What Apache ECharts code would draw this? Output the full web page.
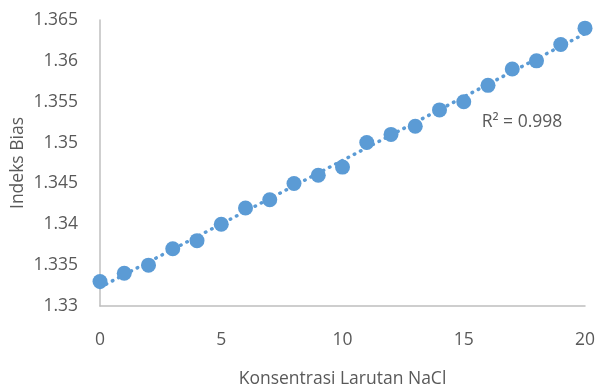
<!DOCTYPE html>
<html>
<head>
<meta charset="utf-8">
<script src="https://cdn.jsdelivr.net/npm/echarts@6/dist/echarts.min.js"></script>
<style>
  html, body { margin: 0; padding: 0; background: #fff; }
  #chart { width: 602px; height: 387px; }
</style>
</head>
<body>
<div id="chart"></div>
<script>
// NaCl concentration vs. refractive index
const konsentrasi = [0, 1, 2, 3, 4, 5, 6, 7, 8, 9, 10, 11, 12, 13, 14, 15, 16, 17, 18, 19, 20];
const indeksBias = [1.333, 1.334, 1.335, 1.337, 1.338, 1.340, 1.342, 1.343, 1.345, 1.346, 1.347,
                    1.350, 1.351, 1.352, 1.354, 1.355, 1.357, 1.359, 1.360, 1.362, 1.364];
const xTicks = [0, 5, 10, 15, 20];
const yTicks = [1.33, 1.335, 1.34, 1.345, 1.35, 1.355, 1.36, 1.365];
const r2Text = 'R² = 0.998';

// least-squares linear trendline through the measurements
const n = konsentrasi.length;
const mx = konsentrasi.reduce((a, b) => a + b, 0) / n;
const my = indeksBias.reduce((a, b) => a + b, 0) / n;
let sxy = 0, sxx = 0;
for (let i = 0; i < n; i++) {
  sxy += (konsentrasi[i] - mx) * (indeksBias[i] - my);
  sxx += (konsentrasi[i] - mx) ** 2;
}
const slope = sxy / sxx;
const intercept = my - slope * mx;
const xFirst = konsentrasi[0], xLast = konsentrasi[n - 1];
const trend = [[xFirst, intercept + slope * xFirst], [xLast, intercept + slope * xLast]];

const textColor = '#595959';
const fontFamily = '"Open Sans", "Liberation Sans", sans-serif';
const fontSize = 17.5;
const blue = '#5b9bd5';

const chart = echarts.init(document.getElementById('chart'), null, { renderer: 'canvas' });
chart.setOption({
  animation: false,
  backgroundColor: '#ffffff',
  grid: { left: 100, right: 17, top: 20, bottom: 81, containLabel: false, outerBoundsMode: 'none' },
  xAxis: {
    type: 'value',
    min: xTicks[0], max: xTicks[xTicks.length - 1], interval: xTicks[1] - xTicks[0],
    name: 'Konsentrasi Larutan NaCl',
    nameLocation: 'middle', nameGap: 64, nameMoveOverlap: false,
    nameTextStyle: { color: textColor, fontSize, fontFamily },
    axisLine: { show: true, lineStyle: { color: '#bfbfbf', width: 1.5 } },
    axisTick: { show: false },
    splitLine: { show: false },
    axisLabel: { color: textColor, fontSize, fontFamily, margin: 25 }
  },
  yAxis: {
    type: 'value',
    min: yTicks[0], max: yTicks[yTicks.length - 1], interval: 0.005,
    name: 'Indeks Bias',
    nameLocation: 'middle', nameGap: 73, nameMoveOverlap: false,
    nameTextStyle: { color: textColor, fontSize, fontFamily },
    axisLine: { show: true, lineStyle: { color: '#bfbfbf', width: 1.5 } },
    axisTick: { show: false },
    splitLine: { show: false },
    axisLabel: {
      color: textColor, fontSize, fontFamily, margin: 22,
      formatter: v => String(Number(v.toFixed(3)))
    }
  },
  series: [
    {
      type: 'line',
      data: trend,
      symbol: 'none',
      lineStyle: { color: blue, width: 3.5, type: [0.5, 6.5], cap: 'round' },
      z: 1,
      markPoint: {
        symbol: 'circle', symbolSize: 0,
        data: [{ coord: [17.4, 1.3525], value: r2Text }],
        label: { show: true, formatter: r2Text, color: textColor, fontSize, fontFamily, position: 'inside' }
      }
    },
    {
      type: 'scatter',
      data: konsentrasi.map((x, i) => [x, indeksBias[i]]),
      symbol: 'circle',
      symbolSize: 15,
      itemStyle: { color: blue, opacity: 1 },
      z: 2
    }
  ]
});
</script>
</body>
</html>
